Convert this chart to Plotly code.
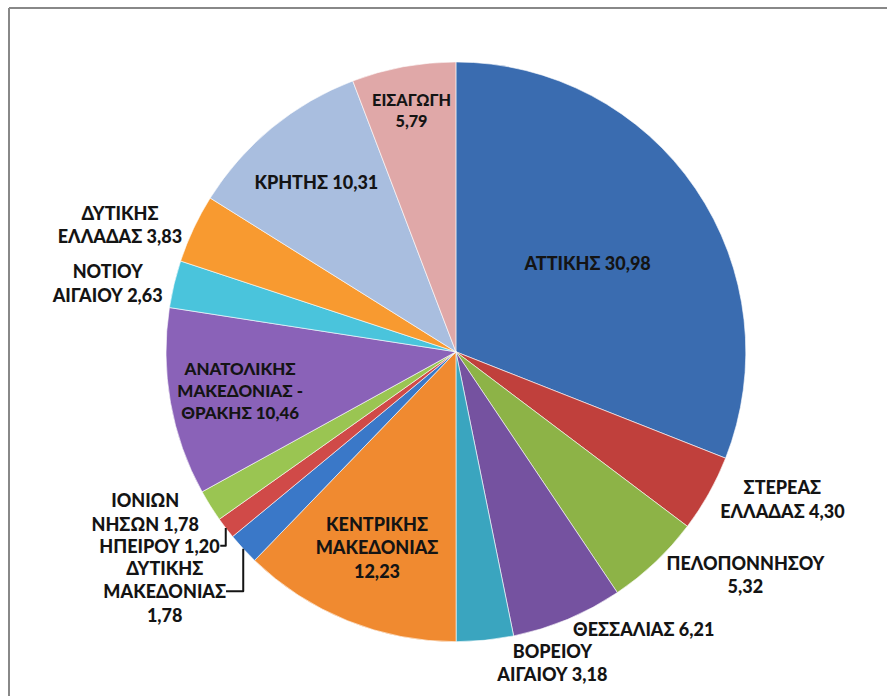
import plotly.graph_objects as go

regions = ["ΑΤΤΙΚΗΣ", "ΣΤΕΡΕΑΣ<br>ΕΛΛΑΔΑΣ", "ΠΕΛΟΠΟΝΝΗΣΟΥ<br>", "ΘΕΣΣΑΛΙΑΣ",
           "ΒΟΡΕΙΟΥ<br>ΑΙΓΑΙΟΥ", "ΚΕΝΤΡΙΚΗΣ<br>ΜΑΚΕΔΟΝΙΑΣ<br>", "ΔΥΤΙΚΗΣ<br>ΜΑΚΕΔΟΝΙΑΣ<br>",
           "ΗΠΕΙΡΟΥ", "ΙΟΝΙΩΝ<br>ΝΗΣΩΝ", "ΑΝΑΤΟΛΙΚΗΣ<br>ΜΑΚΕΔΟΝΙΑΣ -<br>ΘΡΑΚΗΣ",
           "ΝΟΤΙΟΥ<br>ΑΙΓΑΙΟΥ", "ΔΥΤΙΚΗΣ<br>ΕΛΛΑΔΑΣ", "ΚΡΗΤΗΣ", "ΕΙΣΑΓΩΓΗ<br>"]
values = [30.98, 4.30, 5.32, 6.21, 3.18, 12.23, 1.78, 1.20, 1.78, 10.46, 2.63, 3.83, 10.31, 5.79]
colors = ["#3A6CB0", "#C0403C", "#8DB347", "#7552A0", "#3AA5BF", "#F08A30", "#3A78C8",
          "#D04A48", "#9AC552", "#8A62B8", "#4AC4DC", "#F89A30", "#A9BEDF", "#E0A8A8"]
positions = ["inside", "outside", "outside", "outside", "outside", "inside", "outside",
             "outside", "outside", "inside", "outside", "outside", "inside", "inside"]

texts = [f"{r} {v:.2f}".replace(".", ",").replace("<br> ", "<br>") for r, v in zip(regions, values)]

FONT = "Lato, 'Open Sans', sans-serif"
fig = go.Figure(go.Pie(
    labels=[r.replace("<br>", " ").strip() for r in regions],
    values=values,
    text=texts,
    textinfo="text",
    textposition=positions,
    insidetextorientation="horizontal",
    sort=False,
    direction="clockwise",
    rotation=0,
    marker=dict(colors=colors, line=dict(color="rgba(255,255,255,0.6)", width=1)),
    textfont=dict(family=FONT, size=18, color="#141414", weight=900),
    insidetextfont=dict(family=FONT, size=18, color="#141414", weight=900),
    outsidetextfont=dict(family=FONT, size=18, color="#141414", weight=900),
    domain=dict(x=[0.187, 0.841], y=[0.078, 0.911]),
    showlegend=False,
    automargin=False,
))

fig.update_layout(
    width=887, height=696,
    margin=dict(l=0, r=0, t=0, b=0),
    paper_bgcolor="white",
    separators=",.",
    font=dict(family=FONT),
    shapes=[
        dict(type="line", xref="paper", yref="paper", x0=9/887, x1=9/887, y0=0, y1=1-8/696,
             line=dict(color="#888888", width=2)),
        dict(type="line", xref="paper", yref="paper", x0=9/887, x1=1, y0=1-8/696, y1=1-8/696,
             line=dict(color="#888888", width=2)),
    ],
)

fig.write_html("out.html", config={"displayModeBar": False},
               post_script="document.body.style.margin='0';document.body.style.overflow='hidden';")
